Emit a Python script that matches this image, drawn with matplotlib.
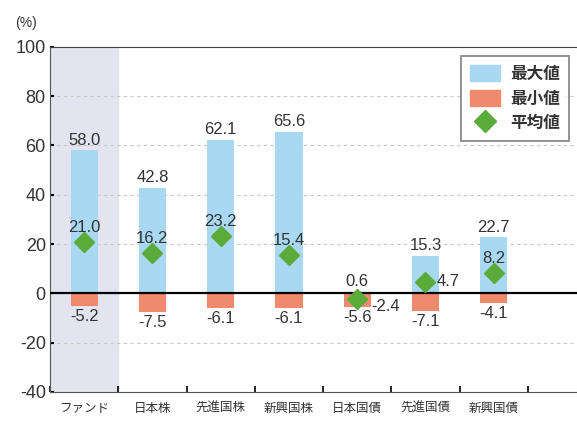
import matplotlib
matplotlib.use("Agg")
import matplotlib.pyplot as plt
from matplotlib.patches import Patch
from matplotlib.lines import Line2D

plt.rcParams['font.family'] = ['Liberation Sans', 'Noto Sans CJK JP', 'DejaVu Sans']
plt.rcParams['axes.unicode_minus'] = False

# データ
categories = ['ファンド', '日本株', '先進国株', '新興国株', '日本国債', '先進国債', '新興国債']
max_vals = [58.0, 42.8, 62.1, 65.6, 0.6, 15.3, 22.7]
min_vals = [-5.2, -7.5, -6.1, -6.1, -5.6, -7.1, -4.1]
avg_vals = [21.0, 16.2, 23.2, 15.4, -2.4, 4.7, 8.2]

blue = '#a9d8f2'
salmon = '#ef8a6c'
green = '#5aab3a'
txt = '#333333'
cjk = ['Noto Sans CJK JP', 'DejaVu Sans']

fig = plt.figure(figsize=(5.77, 4.23), dpi=100)
ax = fig.add_axes([0.0867, 0.0733, 0.9133, 0.816])

x = list(range(len(categories)))

# ファンドの背景
ax.axvspan(-0.5, 0.5, color='#e4e4f1', zorder=0)

ax.bar(x, max_vals, width=0.4, color=blue, zorder=2)
ax.bar(x, min_vals, width=0.4, color=salmon, zorder=2)
ax.axhline(0, color='black', lw=1.6, zorder=3)
ax.plot(x, avg_vals, 'D', color=green, markersize=10, zorder=4, linestyle='none')

fs = 12
for i in x:
    ax.annotate(f'{max_vals[i]:.1f}', (i, max_vals[i]), xytext=(0, 2),
                textcoords='offset points', ha='center', va='bottom',
                fontsize=fs, color=txt)
    ax.annotate(f'{min_vals[i]:.1f}', (i, min_vals[i]), xytext=(0, -2),
                textcoords='offset points', ha='center', va='top',
                fontsize=fs, color=txt)
    if categories[i] == '日本国債':
        ax.annotate(f'{avg_vals[i]:.1f}', (i, avg_vals[i]), xytext=(10, -5),
                    textcoords='offset points', ha='left', va='center',
                    fontsize=fs, color=txt)
    elif categories[i] == '先進国債':
        ax.annotate(f'{avg_vals[i]:.1f}', (i, avg_vals[i]), xytext=(8, 0),
                    textcoords='offset points', ha='left', va='center',
                    fontsize=fs, color=txt)
    else:
        ax.annotate(f'{avg_vals[i]:.1f}', (i, avg_vals[i]), xytext=(0, 5),
                    textcoords='offset points', ha='center', va='bottom',
                    fontsize=fs, color=txt)

ax.set_ylim(-40, 100)
ax.set_xlim(-0.5, 7.22)
ax.set_yticks([-40, -20, 0, 20, 40, 60, 80, 100])
ax.set_xticks([i - 0.5 for i in range(8)])
ax.set_xticklabels([])
ax.set_xticks(x, minor=True)
ax.set_xticklabels(categories, minor=True, fontsize=9, color=txt, family=cjk)
ax.tick_params(axis='x', which='minor', length=0, pad=7)
ax.tick_params(axis='x', which='major', direction='in', length=4, width=1.2)
ax.tick_params(axis='y', direction='in', length=3, width=1.5, labelsize=13,
               labelcolor=txt, pad=3)

for y in [-20, 20, 40, 60, 80]:
    ax.axhline(y, color='#c8c8c8', lw=0.8, linestyle=(0, (3, 3)), zorder=1)

ax.spines['right'].set_visible(False)
ax.spines['top'].set_color('#444444')
ax.spines['left'].set_color('#555555')
ax.spines['bottom'].set_color('#555555')

fig.text(0.026, 0.935, '(%)', fontsize=10, color=txt)

handles = [Patch(color=blue, label='最大値'),
           Patch(color=salmon, label='最小値'),
           Line2D([], [], marker='D', color=green, linestyle='none',
                  markersize=11, label='平均値')]
leg = ax.legend(handles=handles, loc='upper right', bbox_to_anchor=(0.985, 0.974),
                prop={'family': cjk, 'size': 12, 'weight': 'bold'}, frameon=True,
                fancybox=False, handlelength=1.8, handleheight=1.1, handletextpad=0.6,
                borderpad=0.55, labelspacing=0.4, borderaxespad=0)
leg.get_frame().set_edgecolor('#777777')
leg.get_frame().set_linewidth(1.4)
for t in leg.get_texts():
    t.set_color('#333333')

fig.savefig('out.png', dpi=100)
